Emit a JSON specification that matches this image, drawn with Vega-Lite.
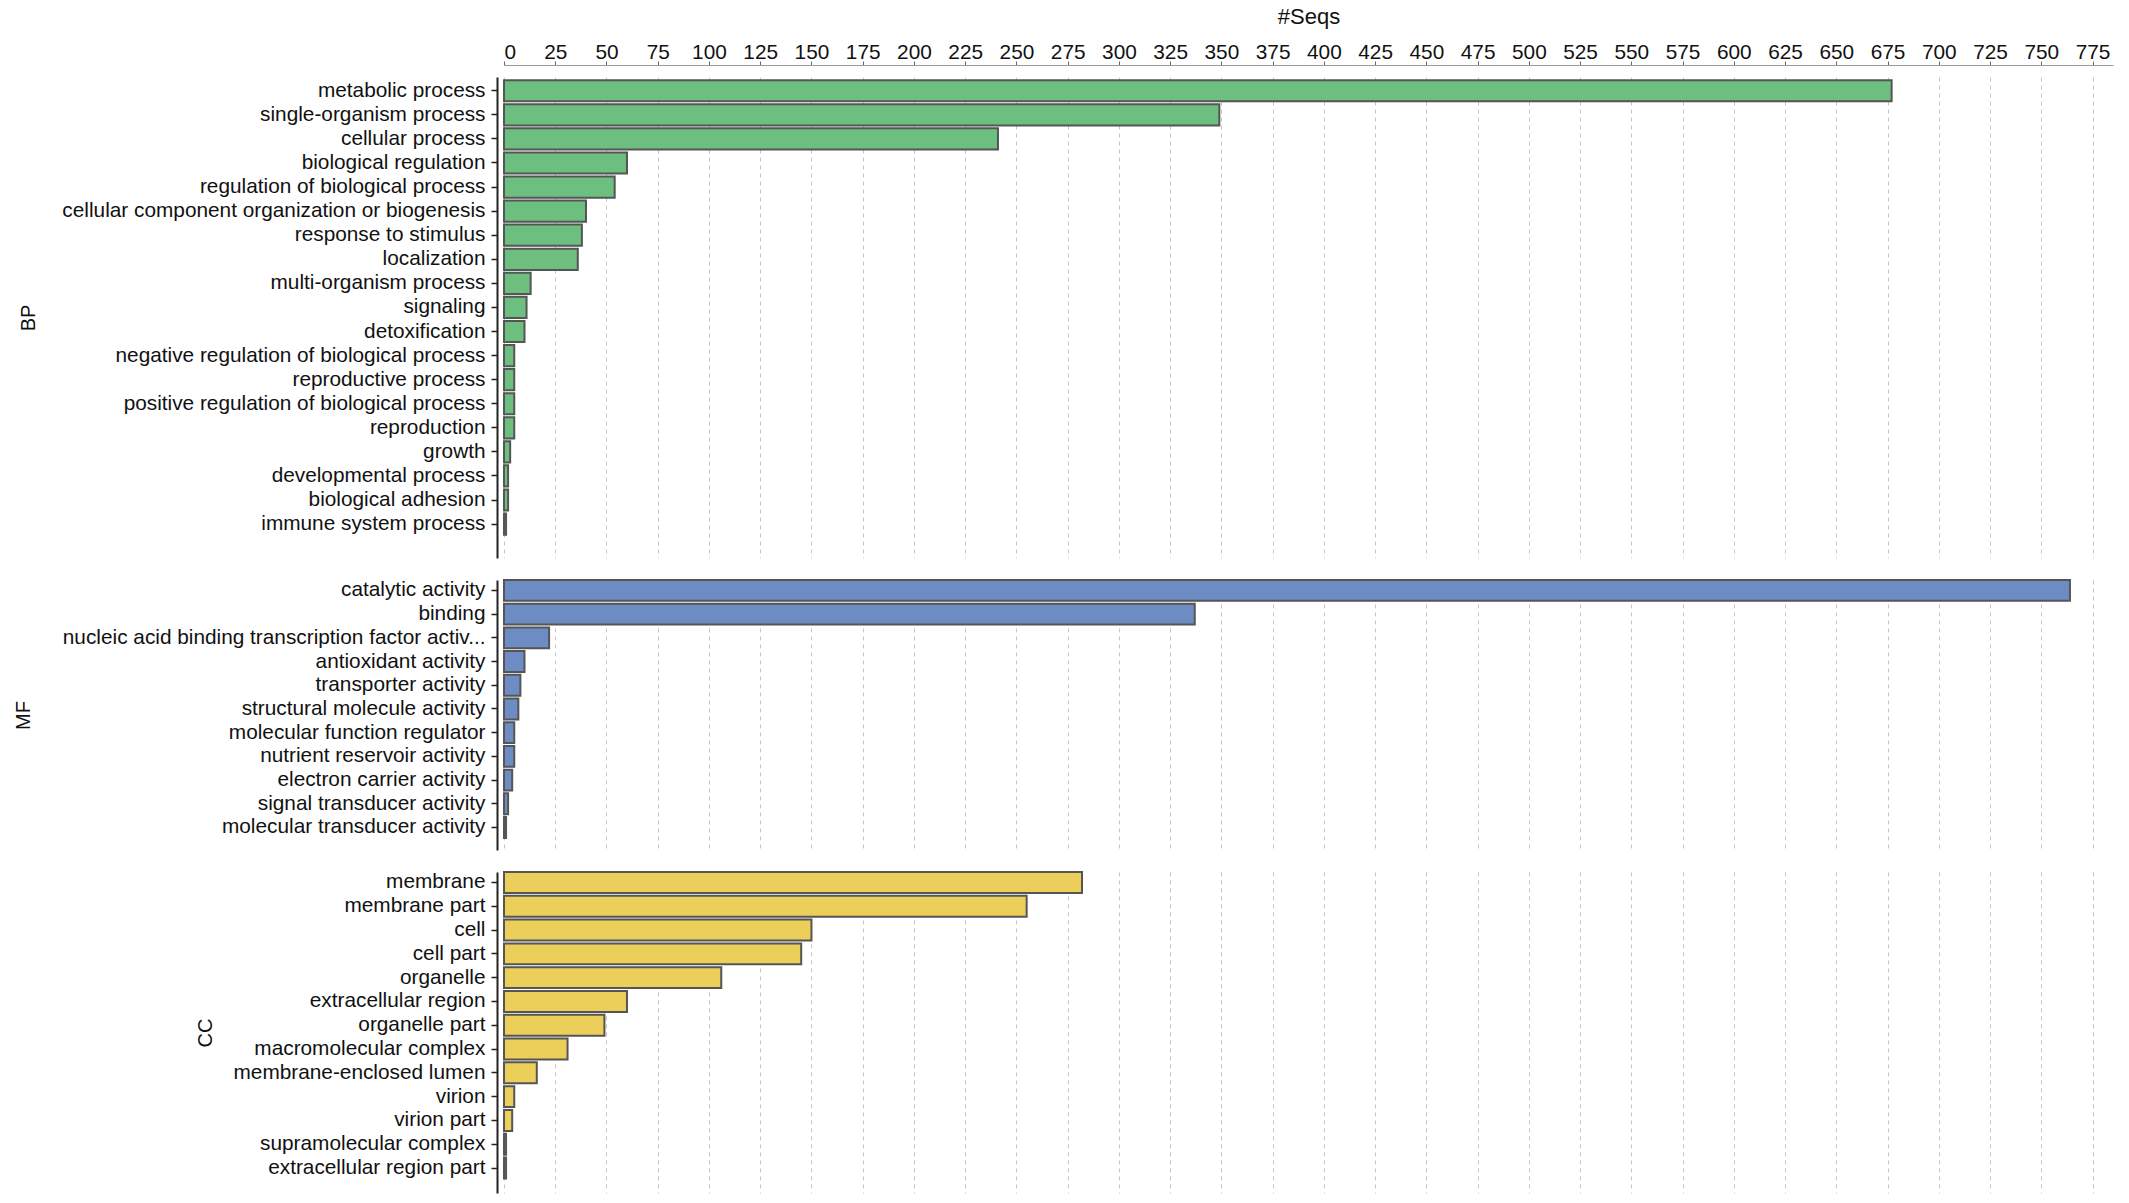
{
  "$schema": "https://vega.github.io/schema/vega-lite/v6.json",
  "description": "GO annotation counts by category (BP, MF, CC)",
  "padding": {"left": 13, "top": 5, "right": 6, "bottom": 2},
  "background": "white",
  "data": {
    "values": [
      {"group": "BP", "term": "metabolic process", "seqs": 677},
      {"group": "BP", "term": "single-organism process", "seqs": 349},
      {"group": "BP", "term": "cellular process", "seqs": 241},
      {"group": "BP", "term": "biological regulation", "seqs": 60},
      {"group": "BP", "term": "regulation of biological process", "seqs": 54},
      {"group": "BP", "term": "cellular component organization or biogenesis", "seqs": 40},
      {"group": "BP", "term": "response to stimulus", "seqs": 38},
      {"group": "BP", "term": "localization", "seqs": 36},
      {"group": "BP", "term": "multi-organism process", "seqs": 13},
      {"group": "BP", "term": "signaling", "seqs": 11},
      {"group": "BP", "term": "detoxification", "seqs": 10},
      {"group": "BP", "term": "negative regulation of biological process", "seqs": 5},
      {"group": "BP", "term": "reproductive process", "seqs": 5},
      {"group": "BP", "term": "positive regulation of biological process", "seqs": 5},
      {"group": "BP", "term": "reproduction", "seqs": 5},
      {"group": "BP", "term": "growth", "seqs": 3},
      {"group": "BP", "term": "developmental process", "seqs": 2},
      {"group": "BP", "term": "biological adhesion", "seqs": 2},
      {"group": "BP", "term": "immune system process", "seqs": 1},
      {"group": "MF", "term": "catalytic activity", "seqs": 764},
      {"group": "MF", "term": "binding", "seqs": 337},
      {"group": "MF", "term": "nucleic acid binding transcription factor activ...", "seqs": 22},
      {"group": "MF", "term": "antioxidant activity", "seqs": 10},
      {"group": "MF", "term": "transporter activity", "seqs": 8},
      {"group": "MF", "term": "structural molecule activity", "seqs": 7},
      {"group": "MF", "term": "molecular function regulator", "seqs": 5},
      {"group": "MF", "term": "nutrient reservoir activity", "seqs": 5},
      {"group": "MF", "term": "electron carrier activity", "seqs": 4},
      {"group": "MF", "term": "signal transducer activity", "seqs": 2},
      {"group": "MF", "term": "molecular transducer activity", "seqs": 1},
      {"group": "CC", "term": "membrane", "seqs": 282},
      {"group": "CC", "term": "membrane part", "seqs": 255},
      {"group": "CC", "term": "cell", "seqs": 150},
      {"group": "CC", "term": "cell part", "seqs": 145},
      {"group": "CC", "term": "organelle", "seqs": 106},
      {"group": "CC", "term": "extracellular region", "seqs": 60},
      {"group": "CC", "term": "organelle part", "seqs": 49},
      {"group": "CC", "term": "macromolecular complex", "seqs": 31},
      {"group": "CC", "term": "membrane-enclosed lumen", "seqs": 16},
      {"group": "CC", "term": "virion", "seqs": 5},
      {"group": "CC", "term": "virion part", "seqs": 4},
      {"group": "CC", "term": "supramolecular complex", "seqs": 1},
      {"group": "CC", "term": "extracellular region part", "seqs": 1}
    ]
  },
  "spacing": 20,
  "vconcat": [
    {
      "width": 1609,
      "height": 481,
      "transform": [{"filter": "datum.group === 'BP'"}],
      "mark": {"type": "bar", "fill": "#6cbf7f", "stroke": "#555555", "strokeWidth": 2},
      "encoding": {
        "y": {
          "field": "term", "type": "nominal", "sort": null,
          "scale": {"paddingInner": 0.12, "paddingOuter": 0.55, "align": 0.12},
          "axis": {"title": "BP", "titleX": -469}
        },
        "x": {
          "field": "seqs", "type": "quantitative", "title": "#Seqs",
          "scale": {"domain": [0, 785], "nice": false, "zero": true},
          "axis": {
            "orient": "top", "offset": 12,
            "values": [0,25,50,75,100,125,150,175,200,225,250,275,300,325,350,375,400,425,450,475,500,525,550,575,600,625,650,675,700,725,750,775],
            "tickSize": 4, "labelPadding": -1, "titlePadding": 13,
            "titleFontSize": 22, "domainColor": "#999999", "tickColor": "#666666"
          }
        }
      }
    },
    {
      "width": 1609,
      "height": 270,
      "transform": [{"filter": "datum.group === 'MF'"}],
      "mark": {"type": "bar", "fill": "#6e8cc4", "stroke": "#555555", "strokeWidth": 2},
      "encoding": {
        "y": {
          "field": "term", "type": "nominal", "sort": null,
          "scale": {"paddingInner": 0.12, "paddingOuter": 0.255, "align": 0},
          "axis": {"title": "MF", "titleX": -474}
        },
        "x": {
          "field": "seqs", "type": "quantitative", "title": null,
          "scale": {"domain": [0, 785], "nice": false, "zero": true},
          "axis": {
            "orient": "top", "labels": false, "ticks": false, "domain": false,
            "values": [0,25,50,75,100,125,150,175,200,225,250,275,300,325,350,375,400,425,450,475,500,525,550,575,600,625,650,675,700,725,750,775]
          }
        }
      }
    },
    {
      "width": 1609,
      "height": 321,
      "transform": [{"filter": "datum.group === 'CC'"}],
      "mark": {"type": "bar", "fill": "#ecce5a", "stroke": "#555555", "strokeWidth": 2},
      "encoding": {
        "y": {
          "field": "term", "type": "nominal", "sort": null,
          "scale": {"paddingInner": 0.12, "paddingOuter": 0.305, "align": 0},
          "axis": {"title": "CC", "titleX": -292}
        },
        "x": {
          "field": "seqs", "type": "quantitative", "title": null,
          "scale": {"domain": [0, 785], "nice": false, "zero": true},
          "axis": {
            "orient": "top", "labels": false, "ticks": false, "domain": false,
            "values": [0,25,50,75,100,125,150,175,200,225,250,275,300,325,350,375,400,425,450,475,500,525,550,575,600,625,650,675,700,725,750,775]
          }
        }
      }
    }
  ],
  "resolve": {"scale": {"y": "independent"}, "axis": {"x": "independent", "y": "independent"}},
  "config": {
    "font": "Liberation Sans",
    "view": {"stroke": null},
    "axis": {
      "labelFont": "Liberation Sans",
      "titleFont": "Liberation Sans",
      "labelFontSize": 20.8,
      "titleFontSize": 20,
      "titleFontWeight": "normal",
      "labelColor": "#111111",
      "titleColor": "#111111",
      "gridColor": "#c4c4c4",
      "gridDash": [4, 4],
      "gridWidth": 1
    },
    "axisY": {
      "offset": 7,
      "labelLimit": 700,
      "labelPadding": 6,
      "tickSize": 6,
      "tickColor": "#222222",
      "tickWidth": 1.5,
      "domainColor": "#222222",
      "domainWidth": 2,
      "titlePadding": 22,
      "titleBaseline": "middle",
      "grid": false
    }
  }
}
